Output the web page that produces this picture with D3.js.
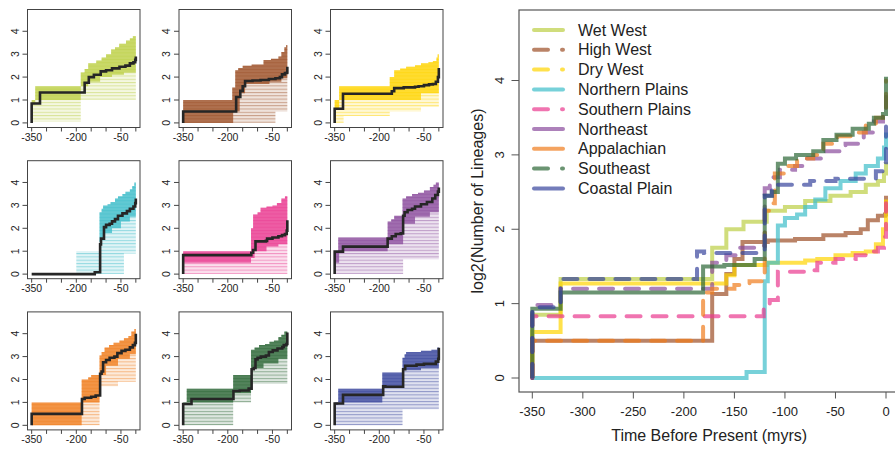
<!DOCTYPE html>
<html>
<head>
<meta charset="utf-8">
<script src="https://cdn.jsdelivr.net/npm/d3@7"></script>
<style>
  body { margin: 0; background: #fff; }
  text { font-family: "Liberation Sans", Arial, sans-serif; fill: #222; }
</style>
</head>
<body>
<svg id="ltt" width="895" height="449"></svg>
<script>
// region names / colours
var regionNames = ["Wet West", "High West", "Dry West", "Northern Plains", "Southern Plains",
                   "Northeast", "Appalachian", "Southeast", "Coastal Plain"];
var regionColors = ["#bccf45", "#9c4f27", "#ffd400", "#3dbdc9", "#e9398f",
                    "#8a4b9c", "#f07c1c", "#2c6636", "#38459c"];
var plotDashed = [false, false, false, false, true, true, true, false, true];
var legendDashed = [false, true, true, false, true, false, false, true, false];

var timeTicks = [-350, -300, -250, -200, -150, -100, -50, 0];
var smallTimeLabels = [-350, -200, -50];
var lineageTicks = [0, 1, 2, 3, 4];

// step series: [time (myrs), log2 lineages], value holds from that time on
var wetWestMed = [[-350,0],[-350,0.85],[-322,1.33],[-172,1.75],[-158,2.0],[-141,2.1],[-118,2.25],[-100,2.3],[-80,2.38],[-55,2.45],[-35,2.5],[-20,2.6],[-8,2.65],[-2,2.75],[0,2.9]];
var wetWestHi  = [[-350,1.0],[-338,1.6],[-185,2.2],[-172,2.35],[-160,2.6],[-133,2.72],[-115,2.85],[-100,3.0],[-83,3.2],[-70,3.3],[-56,3.45],[-33,3.6],[-20,3.7],[-10,3.78],[0,3.85]];
var wetWestMid = [[-350,0.8],[-338,1.0],[-185,1.6],[-160,1.8],[-120,2.0],[-80,2.1],[-40,2.2],[0,2.4]];
var wetWestLo  = [[-350,0.05],[-185,1.0],[0,1.0]];

var highWestMed = [[-350,0],[-350,0.5],[-172,1.13],[-158,1.4],[-150,1.6],[-142,1.83],[-117,1.85],[-90,1.87],[-62,1.92],[-40,1.95],[-25,2.0],[-18,2.12],[-8,2.18],[-1,2.2],[0,2.45]];
var highWestHi  = [[-350,1.0],[-185,1.55],[-175,2.3],[-165,2.4],[-150,2.5],[-120,2.55],[-80,2.75],[-55,2.8],[-30,2.9],[-20,3.1],[-10,3.3],[-4,3.4],[0,3.5]];
var highWestMid = [[-350,0],[-182,0.5],[-160,1.3],[-142,1.7],[-60,1.8],[-20,1.95],[0,2.1]];
var highWestLo  = [[-350,0],[-40,0.5],[0,0.8]];

var dryWestMed = [[-350,0],[-350,0.62],[-322,1.27],[-158,1.38],[-150,1.52],[-118,1.55],[-80,1.58],[-68,1.6],[-50,1.65],[-33,1.68],[-20,1.7],[-10,1.8],[-3,2.0],[0,2.4]];
var dryWestHi  = [[-350,1.0],[-335,1.6],[-165,2.0],[-150,2.3],[-130,2.38],[-110,2.45],[-80,2.52],[-60,2.6],[-35,2.65],[-20,2.7],[-8,2.85],[-4,3.0],[0,3.55]];
var dryWestMid = [[-350,0.6],[-335,1.0],[-165,1.0],[-60,1.3],[0,1.5]];
var dryWestLo  = [[-350,0],[-320,0.3],[-165,0.5],[-60,0.7],[0,0.8]];

var nPlainsMed = [[-350,0],[-138,0.08],[-120,1.3],[-117,1.55],[-107,2.05],[-100,2.15],[-88,2.2],[-80,2.3],[-70,2.4],[-60,2.55],[-45,2.65],[-30,2.75],[-20,2.85],[-8,2.95],[-2,3.1],[0,3.3]];
var nPlainsHi  = [[-350,0],[-200,1.0],[-122,2.7],[-115,2.85],[-110,3.0],[-95,3.05],[-85,3.15],[-70,3.3],[-60,3.4],[-45,3.5],[-35,3.6],[-20,3.7],[-12,3.85],[-5,4.0],[0,4.25]];
var nPlainsMid = [[-350,0],[-200,1.0],[-122,1.4],[-115,1.6],[-105,1.8],[-80,2.0],[-50,2.3],[-20,2.5],[0,2.7]];
var nPlainsLo  = [[-350,0],[-110,0],[-40,0.9],[0,1.0]];

var sPlainsMed = [[-350,0],[-350,0.83],[-121,0.93],[-115,1.05],[-107,1.43],[-72,1.45],[-68,1.55],[-50,1.6],[-30,1.65],[-18,1.7],[-8,1.75],[-2,1.9],[0,2.35]];
var sPlainsHi  = [[-350,1.0],[-122,2.0],[-115,2.6],[-100,2.7],[-90,2.9],[-70,2.95],[-50,3.0],[-35,3.1],[-20,3.3],[-8,3.4],[0,3.7]];
var sPlainsMid = [[-350,0.5],[-122,0.7],[-110,1.0],[-70,1.2],[-30,1.3],[0,1.5]];
var sPlainsLo  = [[-350,0],[0,0]];

var northeastMed = [[-350,0],[-350,0.98],[-322,1.2],[-172,1.55],[-158,1.65],[-145,1.75],[-128,1.78],[-120,2.55],[-115,2.7],[-105,2.8],[-90,2.85],[-80,2.95],[-60,3.05],[-40,3.15],[-22,3.3],[-12,3.45],[-3,3.6],[0,3.78]];
var northeastHi  = [[-350,1.0],[-338,1.6],[-172,2.3],[-160,2.4],[-150,2.55],[-122,3.3],[-110,3.4],[-90,3.5],[-70,3.55],[-50,3.65],[-30,3.8],[-18,3.9],[-10,4.0],[0,4.35]];
var northeastMid = [[-350,0.5],[-335,1.0],[-172,1.3],[-120,2.2],[-80,2.5],[-30,2.7],[0,2.9]];
var northeastLo  = [[-350,0],[-120,0.65],[0,0.65]];

var appalMed = [[-350,0],[-350,0.5],[-181,1.15],[-172,1.2],[-150,1.25],[-135,1.3],[-120,2.25],[-115,2.35],[-110,2.75],[-100,2.85],[-88,2.95],[-72,3.0],[-62,3.15],[-48,3.25],[-35,3.3],[-20,3.4],[-10,3.5],[-3,3.6],[0,4.0]];
var appalHi  = [[-350,1.0],[-182,2.0],[-160,2.1],[-150,2.2],[-122,3.05],[-115,3.2],[-105,3.4],[-90,3.5],[-75,3.6],[-55,3.7],[-40,3.8],[-25,3.9],[-15,4.1],[-5,4.2],[0,4.45]];
var appalMid = [[-350,0],[-182,1.0],[-122,2.2],[-100,2.6],[-60,2.9],[-20,3.1],[0,3.3]];
var appalLo  = [[-350,0],[-122,1.7],[-60,1.9],[0,2.0]];

var southeastMed = [[-350,0],[-350,0.93],[-322,1.15],[-181,1.5],[-160,1.52],[-130,1.6],[-120,2.45],[-113,2.5],[-107,2.88],[-100,2.95],[-89,3.0],[-72,3.05],[-62,3.2],[-49,3.27],[-33,3.35],[-17,3.42],[-12,3.5],[-3,3.55],[0,4.05]];
var southeastHi  = [[-350,1.0],[-338,1.6],[-182,2.2],[-122,3.3],[-110,3.4],[-95,3.5],[-75,3.55],[-60,3.65],[-45,3.7],[-30,3.85],[-20,3.95],[-10,4.1],[0,4.7]];
var southeastMid = [[-350,0.9],[-338,1.0],[-182,1.4],[-122,2.5],[-80,2.7],[-30,2.9],[0,3.1]];
var southeastLo  = [[-350,0],[-182,1.0],[-122,1.8],[0,2.0]];

var coastalMed = [[-350,0],[-350,0.95],[-322,1.33],[-187,1.7],[-180,1.68],[-120,2.45],[-113,2.6],[-75,2.65],[-50,2.68],[-10,2.78],[-2,2.9],[0,3.38]];
var coastalHi  = [[-350,1.0],[-338,1.6],[-190,2.3],[-122,2.95],[-115,3.1],[-110,3.2],[-60,3.25],[-25,3.3],[-5,3.4],[0,4.1]];
var coastalMid = [[-350,0.9],[-338,1.0],[-190,1.7],[-122,2.4],[-60,2.5],[0,2.6]];
var coastalLo  = [[-350,0],[-190,0],[-122,0.7],[0,0.75]];

var medians = [wetWestMed, highWestMed, dryWestMed, nPlainsMed, sPlainsMed, northeastMed, appalMed, southeastMed, coastalMed];
var uppers  = [wetWestHi, highWestHi, dryWestHi, nPlainsHi, sPlainsHi, northeastHi, appalHi, southeastHi, coastalHi];
var middles = [wetWestMid, highWestMid, dryWestMid, nPlainsMid, sPlainsMid, northeastMid, appalMid, southeastMid, coastalMid];
var lowers  = [wetWestLo, highWestLo, dryWestLo, nPlainsLo, sPlainsLo, northeastLo, appalLo, southeastLo, coastalLo];

var regions = regionNames.map(function(n, i){
    return {name: n, color: regionColors[i], med: medians[i], hi: uppers[i], mid: middles[i], lo: lowers[i],
            dashed: plotDashed[i], legendDashed: legendDashed[i]};
});

var svg = d3.select("#ltt");

// thin horizontal stripes, the look of many overlaid trees
var defs = svg.append("defs");
regions.forEach(function(r, i){
    var p = defs.append("pattern").attr("id", "stripes" + i)
        .attr("patternUnits", "userSpaceOnUse").attr("width", 8).attr("height", 3.3);
    p.append("rect").attr("width", 8).attr("height", 3.3).attr("fill", r.color).attr("fill-opacity", 0.16);
    p.append("rect").attr("width", 8).attr("height", 1).attr("fill", r.color).attr("fill-opacity", 0.45);
});

// expand a step series into its corner points
function corners(s){
    var pts = [];
    s.forEach(function(p, i){
        if(i > 0) pts.push([p[0], s[i-1][1]]);
        pts.push(p);
    });
    return pts;
}

/* small panels */
var colLeft = [27.5, 179, 330.5], rowTop = [9.5, 160.7, 311.9];
var pw = 112.5, ph = 118;

var xs = d3.scaleLinear().domain([-364, 14]).range([0, pw]);
var ys = d3.scaleLinear().domain([-0.2, 4.95]).range([ph, 0]);

regions.forEach(function(r, i){
    var g = svg.append("g")
        .attr("transform", "translate(" + colLeft[i % 3] + "," + rowTop[Math.floor(i / 3)] + ")");

    var poly = d3.line().x(function(d){ return xs(d[0]); }).y(function(d){ return ys(d[1]); });

    // faint spread of trees
    g.append("path")
        .attr("d", poly(corners(r.hi).concat(corners(r.lo).reverse())) + "Z")
        .attr("fill", "url(#stripes" + i + ")");
    // dense part of the spread
    g.append("path")
        .attr("d", poly(corners(r.hi).concat(corners(r.mid).reverse())) + "Z")
        .attr("fill", r.color).attr("fill-opacity", 0.78);

    g.append("path")
        .attr("d", d3.line().curve(d3.curveStepAfter)
            .x(function(d){ return xs(d[0]); }).y(function(d){ return ys(d[1]); })(r.med))
        .attr("fill", "none").attr("stroke", "#262626").attr("stroke-width", 2.6);

    g.append("rect").attr("width", pw).attr("height", ph)
        .attr("fill", "none").attr("stroke", "#444").attr("stroke-width", 1);

    // x axis
    var xa = g.append("g").attr("transform", "translate(0," + ph + ")");
    xa.selectAll("line").data(timeTicks).enter().append("line")
        .attr("x1", xs).attr("x2", xs).attr("y1", 0).attr("y2", 4)
        .attr("stroke", "#444");
    xa.selectAll("text").data(smallTimeLabels).enter().append("text")
        .attr("x", xs).attr("y", 13.5)
        .attr("text-anchor", "middle").attr("font-size", "10.5px")
        .text(function(d){ return d; });

    // y axis
    var ya = g.append("g");
    ya.selectAll("line").data(lineageTicks).enter().append("line")
        .attr("x1", -5).attr("x2", 0).attr("y1", ys).attr("y2", ys)
        .attr("stroke", "#444");
    ya.selectAll("text").data(lineageTicks).enter().append("text")
        .attr("transform", function(d){ return "translate(-8.7," + ys(d) + ") rotate(-90)"; })
        .attr("text-anchor", "middle").attr("font-size", "10.5px")
        .text(function(d){ return d; });
});

/* big panel */
var box = {left: 519, top: 10, right: 901, bottom: 392};
var xb = d3.scaleLinear().domain([-350, 0]).range([532.3, 886]);
var yb = d3.scaleLinear().domain([0, 4]).range([378, 80.5]);

svg.append("rect")
    .attr("x", box.left).attr("y", box.top)
    .attr("width", box.right - box.left).attr("height", box.bottom - box.top)
    .attr("fill", "none").attr("stroke", "#555").attr("stroke-width", 1.2);

var big = svg.append("g");
regions.forEach(function(r){
    big.append("path")
        .attr("d", d3.line().curve(d3.curveStepAfter)
            .x(function(d){ return xb(d[0]); }).y(function(d){ return yb(d[1]); })(r.med))
        .attr("fill", "none")
        .attr("stroke", r.color).attr("stroke-opacity", 0.7)
        .attr("stroke-width", 4)
        .attr("stroke-dasharray", r.dashed ? "14,12" : null)
        .attr("stroke-linecap", r.dashed ? "round" : "butt");
});

// x axis
var bx = svg.append("g");
bx.selectAll("line").data(timeTicks).enter().append("line")
    .attr("x1", xb).attr("x2", xb).attr("y1", box.bottom).attr("y2", box.bottom + 6.5)
    .attr("stroke", "#555");
bx.selectAll("text").data(timeTicks).enter().append("text")
    .attr("x", xb).attr("y", box.bottom + 24)
    .attr("text-anchor", "middle").attr("font-size", "13px")
    .text(function(d){ return d; });
svg.append("text")
    .attr("x", (xb(-350) + xb(0)) / 2).attr("y", 441)
    .attr("text-anchor", "middle").attr("font-size", "16px")
    .text("Time Before Present (myrs)");

// y axis
var by = svg.append("g");
by.selectAll("line").data(lineageTicks).enter().append("line")
    .attr("x1", box.left - 7.5).attr("x2", box.left).attr("y1", yb).attr("y2", yb)
    .attr("stroke", "#555");
by.selectAll("text").data(lineageTicks).enter().append("text")
    .attr("transform", function(d){ return "translate(" + (box.left - 15.5) + "," + yb(d) + ") rotate(-90)"; })
    .attr("text-anchor", "middle").attr("font-size", "13px")
    .text(function(d){ return d; });
svg.append("text")
    .attr("transform", "translate(483," + ((box.top + box.bottom) / 2) + ") rotate(-90)")
    .attr("text-anchor", "middle").attr("font-size", "16px")
    .text("log2(Number of Lineages)");

// legend
var leg = svg.append("g");
regions.forEach(function(r, i){
    var y = 30 + i * 19.8;
    leg.append("line")
        .attr("x1", 534).attr("x2", 563).attr("y1", y).attr("y2", y)
        .attr("stroke", r.color).attr("stroke-opacity", 0.7)
        .attr("stroke-width", 4)
        .attr("stroke-linecap", "round")
        .attr("stroke-dasharray", r.legendDashed ? "14,14" : null);
    leg.append("text")
        .attr("x", 578).attr("y", y + 5.6)
        .attr("font-size", "16px")
        .text(r.name);
});
</script>
</body>
</html>
